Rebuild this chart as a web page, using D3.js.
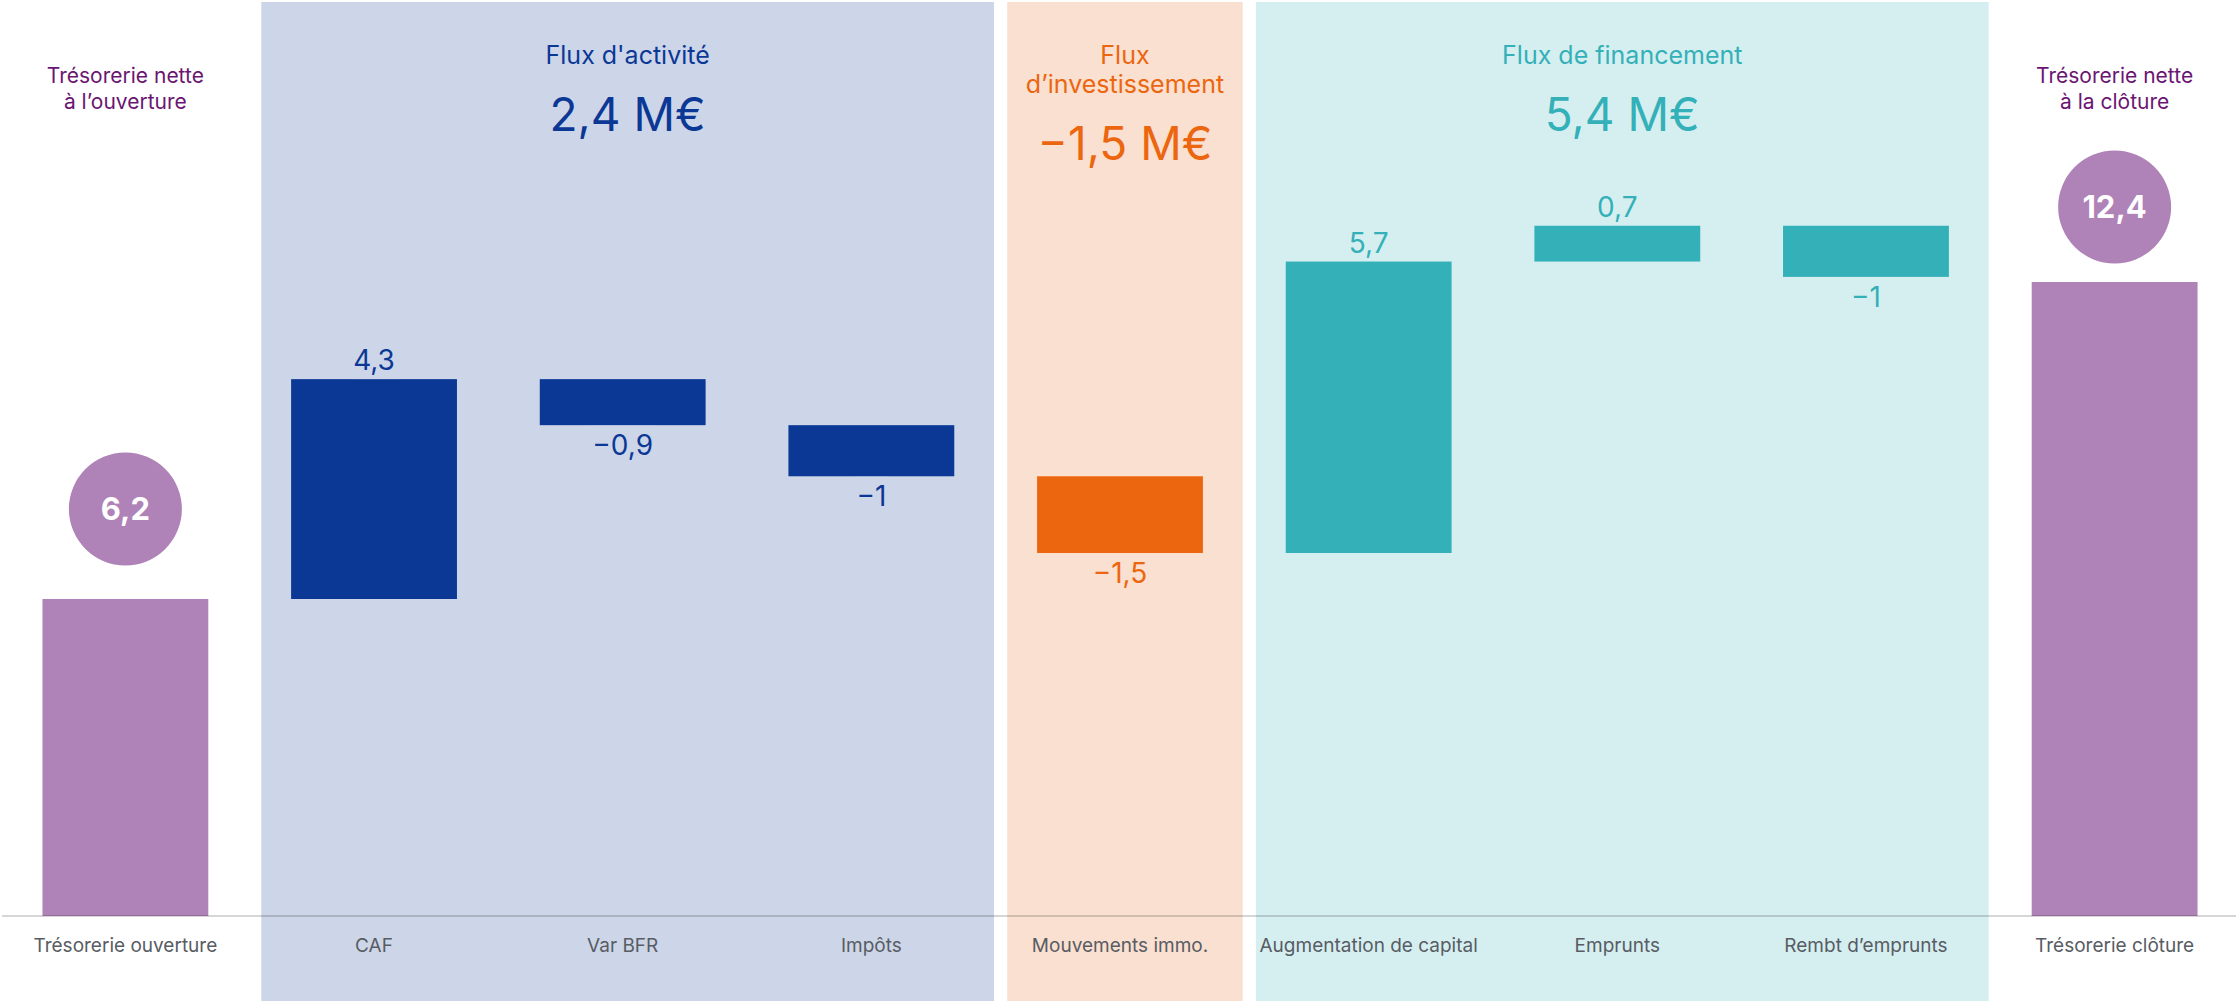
<!DOCTYPE html>
<html>
<head>
<meta charset="utf-8">
<script src="https://cdn.jsdelivr.net/npm/d3@7"></script>
<style>
  body { margin: 0; background: #fff; }
  svg { display: block; font-family: Inter, "Open Sans", sans-serif; }
</style>
</head>
<body>
<div id="chart"></div>
<script>
// categories, in order, and their flows (M€)
const categories = ['Trésorerie ouverture', 'CAF', 'Var BFR', 'Impôts', 'Mouvements immo.',
    'Augmentation de capital', 'Emprunts', 'Rembt d’emprunts', 'Trésorerie clôture'];
const values = [6.2, 4.3, -0.9, -1, -1.5, 5.7, 0.7, -1, 12.4];
const kinds = ['total', 'activite', 'activite', 'activite', 'invest',
    'financement', 'financement', 'financement', 'total'];

// flow groups shown as shaded bands
const groupKeys = ['activite', 'invest', 'financement'];
const groupTitles = [['Flux d\'activité'], ['Flux', 'd’investissement'], ['Flux de financement']];
const totalTitles = [['Trésorerie nette', 'à l’ouverture'], ['Trésorerie nette', 'à la clôture']];

const COLORS = {
    total: { bar: '#af82b8', band: null, text: '#6b1572' },
    activite: { bar: '#0c3895', band: '#cdd6e9', text: '#0c3895' },
    invest: { bar: '#ec660f', band: '#fae0d0', text: '#ec660f' },
    financement: { bar: '#34b0b8', band: '#d5eff1', text: '#34b0b8' }
};

const width = 2236;
const height = 1001;
const baseY = 916;

const fr = d3.formatLocale({ decimal: ',', thousands: ' ', grouping: [3], currency: ['', ' €'] });
const fmt = v => fr.format('~r')(Math.round(v * 10) / 10);

// waterfall start / end for each step
let running = 0;
const rows = categories.map((c, i) => {
    const v = values[i];
    let y0, y1;
    if (kinds[i] === 'total') {
        y0 = 0; y1 = v; running = v;
    } else {
        y0 = running; y1 = running + v; running = y1;
    }
    return { cat: c, value: v, kind: kinds[i], y0, y1, i };
});

const svg = d3.select('#chart').append('svg')
    .attr('width', width)
    .attr('height', height);

const x = d3.scaleBand()
    .domain(categories)
    .range([1, 2239])
    .paddingInner(0.333)
    .paddingOuter(0.1667);

const y = d3.scaleLinear()
    .domain([0, 12.4])
    .range([baseY, 282]);

const step = x.step();

// Group bands + headers
groupKeys.forEach((key, gi) => {
    const cats = rows.filter(r => r.kind === key);
    const left = x(cats[0].cat) - 0.12 * step;
    const right = x(cats[cats.length - 1].cat) + x.bandwidth() + 0.16 * step;
    const cx = (left + right) / 2;
    const col = COLORS[key];

    svg.append('rect')
        .attr('x', left)
        .attr('y', 2)
        .attr('width', right - left)
        .attr('height', height - 2)
        .attr('fill', col.band);

    const lines = groupTitles[gi];
    lines.forEach((t, li) => {
        svg.append('text')
            .attr('x', cx)
            .attr('y', 64 + li * 29)
            .attr('text-anchor', 'middle')
            .style('font-size', '25px')
            .style('fill', col.text)
            .text(t);
    });

    const total = d3.sum(cats, d => d.value);
    svg.append('text')
        .attr('x', cx)
        .attr('y', 64 + (lines.length - 1) * 29 + 67)
        .attr('text-anchor', 'middle')
        .style('font-size', '46px')
        .style('fill', col.text)
        .text(fmt(total) + ' M€');
});

// Totals headers
rows.filter(r => r.kind === 'total').forEach((r, ti) => {
    const cx = x(r.cat) + x.bandwidth() / 2;
    totalTitles[ti].forEach((t, li) => {
        svg.append('text')
            .attr('x', cx)
            .attr('y', 83 + li * 26)
            .attr('text-anchor', 'middle')
            .style('font-size', '21px')
            .style('fill', COLORS.total.text)
            .text(t);
    });
});

// Bars
svg.selectAll('.bar')
    .data(rows)
    .enter()
    .append('rect')
    .attr('class', 'bar')
    .attr('x', d => x(d.cat))
    .attr('width', x.bandwidth())
    .attr('y', d => y(Math.max(d.y0, d.y1)))
    .attr('height', d => Math.abs(y(d.y0) - y(d.y1)))
    .attr('fill', d => COLORS[d.kind].bar);

// Value labels for flows
rows.filter(r => r.kind !== 'total').forEach(r => {
    const cx = x(r.cat) + x.bandwidth() / 2;
    const col = COLORS[r.kind].text;
    const pos = r.value >= 0;
    const edge = pos ? y(r.y1) : y(r.y1);
    const label = svg.append('text')
        .attr('x', cx)
        .attr('y', pos ? edge - 9 : edge + 30)
        .attr('text-anchor', 'middle')
        .style('font-size', '28px')
        .style('fill', col)
        .text(fmt(r.value));
    const w = label.node().getComputedTextLength() + 4;
    svg.insert('rect', 'text')
        .attr('x', cx - w / 2)
        .attr('y', pos ? edge : edge - 1.5)
        .attr('width', w)
        .attr('height', 1.5)
        .attr('fill', '#fff')
        .attr('opacity', 0.85);
});

// Circles on totals
rows.filter(r => r.kind === 'total').forEach((r, ti) => {
    const cx = x(r.cat) + x.bandwidth() / 2;
    const cy = y(r.y1) - (ti === 0 ? 90 : 75);
    svg.append('circle')
        .attr('cx', cx)
        .attr('cy', cy)
        .attr('r', 56.5)
        .attr('fill', COLORS.total.bar);
    svg.append('text')
        .attr('x', cx)
        .attr('y', cy + 11)
        .attr('text-anchor', 'middle')
        .style('font-size', '31px')
        .style('font-weight', '700')
        .style('fill', '#fff')
        .text(fmt(r.value));
});

// Baseline axis
const xAxis = d3.axisBottom(x).tickSize(0).tickPadding(0);
const axisG = svg.append('g')
    .attr('transform', `translate(0,${baseY})`)
    .call(xAxis);

axisG.select('.domain').remove();
axisG.append('line')
    .attr('x1', 2)
    .attr('x2', width)
    .attr('y1', 0)
    .attr('y2', 0)
    .attr('stroke', 'rgba(0,0,0,0.16)')
    .attr('stroke-width', 2);

axisG.selectAll('.tick text')
    .attr('y', 36)
    .attr('dy', 0)
    .style('font-size', '19px')
    .style('font-family', 'Inter, sans-serif')
    .style('fill', '#585c63');
</script>
</body>
</html>
